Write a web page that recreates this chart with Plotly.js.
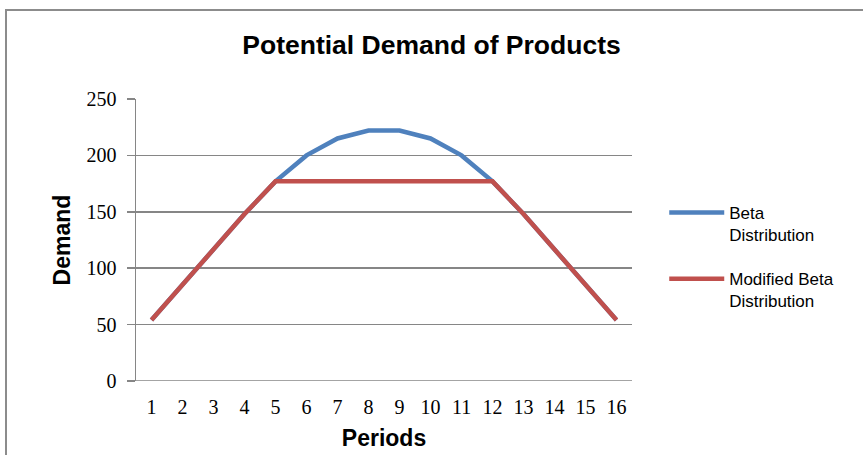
<!DOCTYPE html>
<html>
<head>
<meta charset="utf-8">
<script src="https://cdn.plot.ly/plotly-3.0.1.min.js"></script>
<style>
html,body{margin:0;padding:0;background:#fff;}
#wrap{position:relative;width:863px;height:455px;overflow:hidden;}
#frame{position:absolute;left:5px;top:9px;width:900px;height:500px;border-left:2px solid #8c8c8c;border-top:2px solid #8c8c8c;box-sizing:border-box;}
#chart{position:absolute;left:0;top:0;width:863px;height:455px;}
</style>
</head>
<body>
<div id="wrap"><div id="frame"></div><div id="chart"></div></div>
<script>
const periods = [1,2,3,4,5,6,7,8,9,10,11,12,13,14,15,16];
const betaDist = [54,85,117,148,177,200,215,222,222,215,200,177,148,117,85,54];
const modifiedBeta = [54,85,117,148,177,177,177,177,177,177,177,177,148,117,85,54];
const yTicks = [0,50,100,150,200,250];

const traces = [
  {x: periods, y: betaDist, type:'scatter', mode:'lines', name:'Beta<br>Distribution', legendgroup:'a',
   line:{color:'#4F81BD', width:4.5}},
  {x: periods, y: modifiedBeta, type:'scatter', mode:'lines', name:'Modified Beta<br>Distribution', legendgroup:'b',
   line:{color:'#C0504D', width:4.5}}
];

const layout = {
  width:863, height:455,
  margin:{l:136, r:231, t:99, b:74},
  paper_bgcolor:'rgba(0,0,0,0)', plot_bgcolor:'rgba(0,0,0,0)',
  title:{text:'Potential Demand of Products', font:{family:'Liberation Sans, Arial', size:26.5, color:'#000', weight:'bold'},
         x:0.5, xref:'container', y:1-45/455, yref:'container', yanchor:'middle'},
  xaxis:{range:[0.5,16.5], tickvals:periods, ticktext:periods.map(String), showgrid:false, zeroline:false,
         showline:false, ticks:'', ticklabelstandoff:12, tickfont:{family:'Liberation Serif, Times New Roman', size:20, color:'#000'},
         title:{text:'Periods', font:{family:'Liberation Sans, Arial', size:23, color:'#000', weight:'bold'}, standoff:12}},
  yaxis:{range:[0,250], tickvals:yTicks, showgrid:true, gridcolor:'#868686', gridwidth:1.5, zeroline:false,
         showline:true, linecolor:'#868686', linewidth:1.5, ticks:'outside', ticklen:8, tickcolor:'#868686', tickwidth:1.5, ticklabelstandoff:6,
         tickfont:{family:'Liberation Serif, Times New Roman', size:20, color:'#000'},
         title:{text:'Demand', font:{family:'Liberation Sans, Arial', size:23, color:'#000', weight:'bold'}, standoff:9}},
  shapes:[{type:'line', xref:'paper', yref:'y', x0:0, x1:1, y0:0, y1:0, line:{color:'#868686', width:1.5}}],
  showlegend:true,
  legend:{x:1.065, y:0.66, xanchor:'left', yanchor:'top', font:{family:'Liberation Sans, Arial', size:17, color:'#000'},
          tracegroupgap:19, itemwidth:55, valign:'top', bgcolor:'rgba(0,0,0,0)'}
};

Plotly.newPlot('chart', traces, layout, {displayModeBar:false, staticPlot:true});
</script>
</body>
</html>
